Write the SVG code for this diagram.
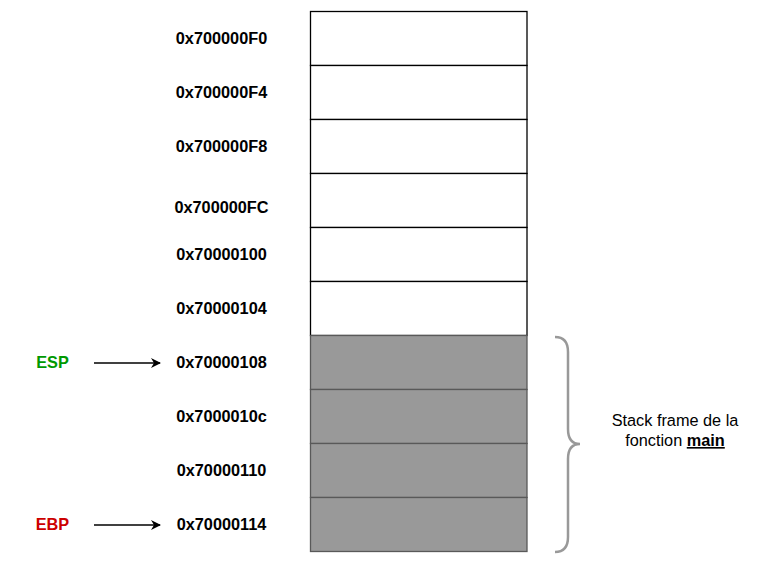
<svg xmlns="http://www.w3.org/2000/svg" width="773" height="562" viewBox="0 0 773 562">
<style>
.lbl{font-family:"Liberation Sans",Arial,sans-serif;font-size:16.3px;font-weight:bold;fill:#000;text-anchor:middle;dominant-baseline:central}
.w{fill:#fff;stroke:#000;stroke-width:1.3}
.g{fill:#999999;stroke:#595959;stroke-width:1.3}
.note{font-family:"Liberation Sans",Arial,sans-serif;font-size:16.3px;fill:#000;text-anchor:middle}
</style>
<defs>
<marker id="ah" markerWidth="10" markerHeight="10" refX="9" refY="5" orient="auto" markerUnits="userSpaceOnUse">
<path d="M0,0 L10,5 L0,10 L3,5 Z" fill="#000"/>
</marker>
</defs>
<rect width="773" height="562" fill="#fff"/>
<g id="cell-F0"><rect class="w" x="310.5" y="11.5" width="216.5" height="54"/><text class="lbl" x="221.5" y="38">0x700000F0</text></g>
<g id="cell-F4"><rect class="w" x="310.5" y="65.5" width="216.5" height="54"/><text class="lbl" x="221.5" y="92">0x700000F4</text></g>
<g id="cell-F8"><rect class="w" x="310.5" y="119.5" width="216.5" height="54"/><text class="lbl" x="221.5" y="146">0x700000F8</text></g>
<g id="cell-FC"><rect class="w" x="310.5" y="173.5" width="216.5" height="54"/><text class="lbl" x="221.5" y="207">0x700000FC</text></g>
<g id="cell-100"><rect class="w" x="310.5" y="227.5" width="216.5" height="54"/><text class="lbl" x="221.5" y="254">0x70000100</text></g>
<g id="cell-104"><rect class="w" x="310.5" y="281.5" width="216.5" height="54"/><text class="lbl" x="221.5" y="308">0x70000104</text></g>
<g id="cell-108"><rect class="g" x="310.5" y="335.5" width="216.5" height="54"/><text class="lbl" x="221.5" y="362">0x70000108</text></g>
<g id="cell-10c"><rect class="g" x="310.5" y="389.5" width="216.5" height="54"/><text class="lbl" x="221.5" y="416">0x7000010c</text></g>
<g id="cell-110"><rect class="g" x="310.5" y="443.5" width="216.5" height="54"/><text class="lbl" x="221.5" y="470">0x70000110</text></g>
<g id="cell-114"><rect class="g" x="310.5" y="497.5" width="216.5" height="54"/><text class="lbl" x="221.5" y="524">0x70000114</text></g>
<g id="esp"><text class="lbl" x="52.5" y="362" style="fill:#009900">ESP</text></g>
<g id="ebp"><text class="lbl" x="52.5" y="524" style="fill:#CC0000">EBP</text></g>
<g id="brace"><path d="M555,337 Q568,337 568,352 L568,429 Q568,444 580,444 Q568,444 568,459 L568,537 Q568,552 555,552" fill="none" stroke="#999999" stroke-width="2.5"/></g>
<g id="note"><text class="note" x="675" y="426">Stack frame de la</text><text class="note" x="675" y="446">fonction <tspan font-weight="bold" text-decoration="underline">main</tspan></text></g>
<g id="connectors">
<line x1="94" y1="363" x2="160" y2="363" stroke="#000" stroke-width="1.3" marker-end="url(#ah)"/>
<line x1="94" y1="525" x2="160" y2="525" stroke="#000" stroke-width="1.3" marker-end="url(#ah)"/>
</g>
</svg>
